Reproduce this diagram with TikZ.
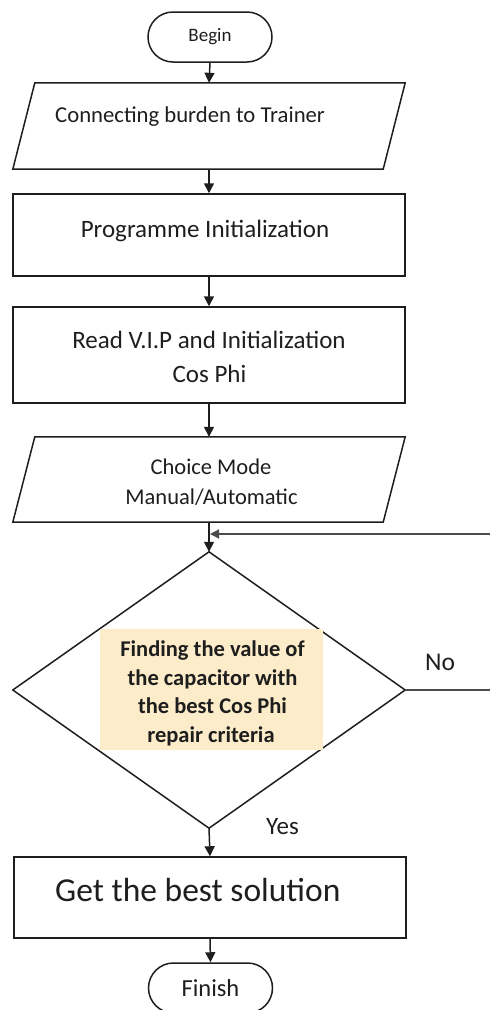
\documentclass[tikz,border=0pt]{standalone}
\usepackage{fontspec}
\setmainfont{Carlito}
\usetikzlibrary{arrows.meta,calc}
\definecolor{cream}{RGB}{252,236,201}
\definecolor{ink}{RGB}{30,30,30}
\begin{document}
\begin{tikzpicture}[x=1pt,y=-1pt,
  shapeline/.style={draw=ink, line width=1.5pt},
  box/.style={shapeline, inner sep=0pt},
  ghost/.style={inner sep=0pt},
  term/.style={shapeline, rounded corners=25pt, minimum width=124pt, minimum height=50pt, inner sep=0pt, text=ink},
  flow/.style={draw=ink, line width=1.5pt, -{Triangle[length=10pt,width=10pt]}},
  back/.style={draw=ink!80, line width=1.3pt, -{Triangle[length=9pt,width=9pt]}},
  txt/.style={inner sep=0pt, text=ink},
]
\useasboundingbox (0,0) rectangle (490,1010);

% Begin
\node[term, font=\fontsize{19}{23}\selectfont] (begin) at (210,37) {Begin};

% Input 1
\node[ghost, minimum width=392pt, minimum height=86pt] (p1) at (209,126) {};
\draw[shapeline] ($(p1.north west)+(22,0)$) -- (p1.north east) -- ($(p1.south east)+(-22,0)$) -- (p1.south west) -- cycle;
\node[txt, anchor=base west, font=\fontsize{22.7}{27}\selectfont] (t1) at (55,122) {Connecting burden to Trainer};

% Programme Initialization
\node[box, minimum width=392pt, minimum height=82pt] (r2) at (209,235) {};
\node[txt, anchor=base, font=\fontsize{25}{30}\selectfont] (t2) at (205,237) {Programme Initialization};

% Read V.I.P
\node[box, minimum width=392pt, minimum height=96pt] (r3) at (209,355) {};
\node[txt, anchor=base, font=\fontsize{25}{30}\selectfont] (t3a) at (209,348) {Read V.I.P and Initialization};
\node[txt, anchor=base, font=\fontsize{25}{30}\selectfont] (t3b) at (209.5,382) {Cos Phi};

% Choice mode
\node[ghost, minimum width=392pt, minimum height=85pt] (p4) at (209,479.5) {};
\draw[shapeline] ($(p4.north west)+(22,0)$) -- (p4.north east) -- ($(p4.south east)+(-22,0)$) -- (p4.south west) -- cycle;
\node[txt, anchor=base, font=\fontsize{22.5}{27}\selectfont] (t4a) at (211,474) {Choice Mode};
\node[txt, anchor=base, font=\fontsize{22.5}{27}\selectfont] (t4b) at (211.5,504) {Manual/Automatic};

% Decision
\node[ghost, minimum width=392pt, minimum height=276pt] (dec) at (209,690) {};
\draw[shapeline] (dec.north) -- (dec.east) -- (dec.south) -- (dec.west) -- cycle;
\node[fill=cream, minimum width=223pt, minimum height=121pt, inner sep=0pt] (dbox) at (211.5,689.5) {};
\node[txt, anchor=base, font=\bfseries\fontsize{22.5}{27}\selectfont] (d1) at (212.5,656) {Finding the value of};
\node[txt, anchor=base, font=\bfseries\fontsize{22.5}{27}\selectfont] (d2) at (212.5,685) {the capacitor with};
\node[txt, anchor=base, font=\bfseries\fontsize{22.5}{27}\selectfont] (d3) at (212.5,713.5) {the best Cos Phi};
\node[txt, anchor=base, font=\bfseries\fontsize{22.5}{27}\selectfont] (d4) at (211,742.5) {repair criteria};

\node[txt, anchor=base west, font=\fontsize{25.5}{30}\selectfont] (no) at (425,670) {No};
\node[txt, anchor=base west, font=\fontsize{25}{30}\selectfont] (yes) at (266,834) {Yes};

% Result
\node[box, minimum width=392pt, minimum height=81pt] (r5) at (210,897.5) {};
\node[txt, anchor=base west, font=\fontsize{33.5}{40}\selectfont] (t5) at (55,901) {Get the best solution};

% Finish
\node[term, font=\fontsize{24.5}{29}\selectfont] (fin) at (210.5,988) {Finish};

% Connectors
\draw[flow] (begin.south) -- (p1.north);
\draw[flow] (p1.south) -- (r2.north);
\draw[flow] (r2.south) -- (r3.north);
\draw[flow] (r3.south) -- (p4.north);
\draw[flow] (p4.south) -- (dec.north);
\coordinate (join) at (210,534);
\coordinate (edge) at (493,690);
\draw[back] (dec.east) -- (edge) |- (join);
\draw[flow] (dec.south) -- (r5.north);
\draw[flow] (r5.south) -- (fin.north);
\end{tikzpicture}
\end{document}
